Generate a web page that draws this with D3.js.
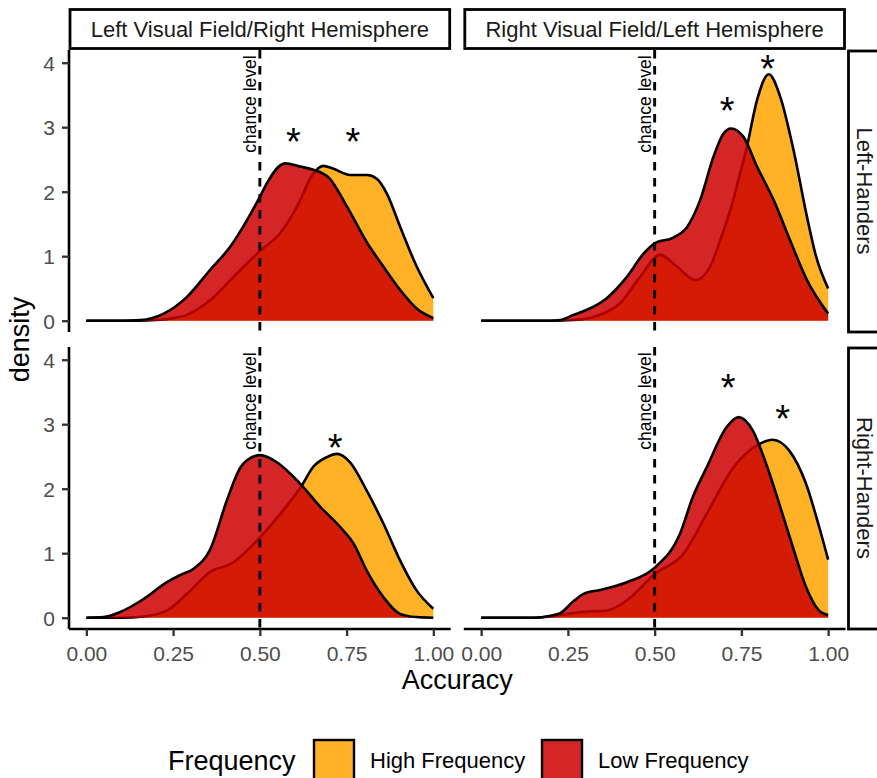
<!DOCTYPE html>
<html lang="en">
<head>
  <meta charset="UTF-8">
  <title>Accuracy densities by visual field and handedness</title>
  <script src="https://d3js.org/d3.v7.min.js"></script>
  <style>
    body {
      margin: 0;
      background: #fff;
      font-family: "Liberation Sans", Arial, Helvetica, sans-serif;
    }
    svg text {
      font-family: "Liberation Sans", Arial, Helvetica, sans-serif;
    }
    .tick-label {
      fill: #4d4d4d;
      font-size: 21px;
    }
    .strip-label {
      fill: #1a1a1a;
      font-size: 22px;
    }
    .axis-title {
      fill: #000;
      font-size: 27px;
    }
  </style>
</head>
<body>
  <svg width="877" height="778"></svg>

  <script>
    // facet labels
    const fieldLabels = ['Left Visual Field/Right Hemisphere', 'Right Visual Field/Left Hemisphere'];
    const handLabels = ['Left-Handers', 'Right-Handers'];
    const freqLabels = ['High Frequency', 'Low Frequency'];
    const freqColors = ['#FFA500', '#CD0000'];

    const accuracyTicks = [0, 0.25, 0.5, 0.75, 1];
    const densityTicks = [0, 1, 2, 3, 4];
    const chanceLevel = 0.5;

    // density curves: [accuracy, density]
    const leftLvfHigh = [[0, 0], [0.15, 0], [0.2, 0.01], [0.25, 0.04], [0.29, 0.09], [0.357, 0.32], [0.424, 0.68],
      [0.5, 1.08], [0.559, 1.36], [0.607, 1.77], [0.654, 2.28], [0.683, 2.4], [0.71, 2.36], [0.76, 2.26],
      [0.81, 2.26], [0.837, 2.2], [0.866, 1.97], [0.904, 1.46], [0.952, 0.84], [1, 0.35]];
    const leftLvfLow = [[0, 0], [0.1, 0], [0.156, 0.01], [0.223, 0.11], [0.29, 0.37], [0.357, 0.79], [0.415, 1.15],
      [0.463, 1.56], [0.5, 1.92], [0.52, 2.13], [0.573, 2.44], [0.616, 2.39], [0.654, 2.34], [0.7, 2.21],
      [0.75, 1.78], [0.81, 1.2], [0.856, 0.84], [0.904, 0.48], [0.952, 0.19], [1, 0.04]];

    const leftRvfHigh = [[0, 0], [0.2, 0], [0.266, 0.01], [0.33, 0.07], [0.4, 0.27], [0.458, 0.68], [0.516, 1.02],
      [0.564, 0.84], [0.617, 0.63], [0.66, 0.84], [0.689, 1.25], [0.72, 1.75], [0.746, 2.28], [0.766, 2.7],
      [0.795, 3.42], [0.829, 3.82], [0.862, 3.47], [0.9, 2.65], [0.939, 1.61], [0.965, 1.0], [1, 0.5]];
    const leftRvfLow = [[0, 0], [0.2, 0], [0.228, 0.01], [0.266, 0.09], [0.305, 0.17], [0.362, 0.35], [0.42, 0.68],
      [0.468, 1.04], [0.5, 1.2], [0.554, 1.29], [0.593, 1.45], [0.631, 1.87], [0.67, 2.55], [0.698, 2.9],
      [0.72, 2.98], [0.756, 2.85], [0.795, 2.39], [0.843, 1.87], [0.89, 1.25], [0.939, 0.63], [1, 0.11]];

    const rightLvfHigh = [[0, 0], [0.1, 0], [0.165, 0.02], [0.232, 0.11], [0.29, 0.37], [0.357, 0.71], [0.424, 0.86],
      [0.463, 1.04], [0.501, 1.25], [0.559, 1.61], [0.621, 2.05], [0.654, 2.34], [0.693, 2.49], [0.722, 2.54],
      [0.76, 2.41], [0.808, 1.97], [0.856, 1.46], [0.904, 0.89], [0.952, 0.42], [1, 0.14]];
    const rightLvfLow = [[0, 0], [0.05, 0.01], [0.098, 0.09], [0.165, 0.29], [0.232, 0.55], [0.27, 0.66], [0.309, 0.76],
      [0.357, 1.06], [0.405, 1.82], [0.444, 2.33], [0.463, 2.44], [0.501, 2.52], [0.549, 2.41], [0.616, 2.08],
      [0.674, 1.72], [0.731, 1.41], [0.77, 1.15], [0.808, 0.73], [0.856, 0.32], [0.904, 0.06], [0.95, 0.01], [1, 0]];

    const rightRvfHigh = [[0, 0], [0.15, 0], [0.2, 0.02], [0.25, 0.06], [0.295, 0.09], [0.362, 0.11], [0.42, 0.27],
      [0.501, 0.68], [0.583, 0.99], [0.65, 1.61], [0.727, 2.33], [0.804, 2.7], [0.84, 2.76], [0.888, 2.59],
      [0.936, 2.08], [0.974, 1.41], [1, 0.9]];
    const rightRvfLow = [[0, 0], [0.15, 0], [0.2, 0.03], [0.228, 0.07], [0.265, 0.25], [0.295, 0.37], [0.343, 0.43],
      [0.38, 0.48], [0.42, 0.55], [0.501, 0.78], [0.573, 1.3], [0.61, 1.87], [0.65, 2.33], [0.708, 2.96],
      [0.742, 3.11], [0.783, 2.9], [0.821, 2.39], [0.859, 1.77], [0.898, 1.1], [0.936, 0.48], [0.974, 0.11], [1, 0.04]];

    // significance stars: [accuracy, density]
    const leftLvfStars = [[0.597, 2.88], [0.768, 2.88]];
    const leftRvfStars = [[0.709, 3.37], [0.826, 4.02]];
    const rightLvfStars = [[0.717, 2.75]];
    const rightRvfStars = [[0.712, 3.68], [0.869, 3.19]];

    const panels = [
      { row: 0, col: 0, high: leftLvfHigh, low: leftLvfLow, stars: leftLvfStars },
      { row: 0, col: 1, high: leftRvfHigh, low: leftRvfLow, stars: leftRvfStars },
      { row: 1, col: 0, high: rightLvfHigh, low: rightLvfLow, stars: rightLvfStars },
      { row: 1, col: 1, high: rightRvfHigh, low: rightRvfLow, stars: rightRvfStars }
    ];

    const svg = d3.select('svg');
    const cols = [[69, 450.7], [463.8, 845.5]];
    const rows = [[50, 332], [347, 629]];
    const lineW = 2.6;

    panels.forEach(p => {
      const [x0, x1] = cols[p.col];
      const [y0, y1] = rows[p.row];
      const x = d3.scaleLinear().domain([-0.05, 1.05]).range([x0, x1]);
      const y = d3.scaleLinear().domain([-0.175, 4.197]).range([y1, y0]);
      const g = svg.append('g');

      const area = d3.area()
        .x(d => x(d[0])).y0(y(0)).y1(d => y(d[1]))
        .curve(d3.curveMonotoneX);
      const line = d3.line()
        .x(d => x(d[0])).y(d => y(d[1]))
        .curve(d3.curveMonotoneX);

      [p.high, p.low].forEach((series, i) => {
        g.append('path')
          .attr('d', area(series))
          .attr('fill', freqColors[i])
          .attr('fill-opacity', 0.85);
        g.append('path')
          .attr('d', line(series))
          .attr('fill', 'none')
          .attr('stroke', '#000')
          .attr('stroke-width', lineW);
      });

      // chance level
      g.append('line')
        .attr('x1', x(chanceLevel)).attr('x2', x(chanceLevel))
        .attr('y1', y0).attr('y2', y1)
        .attr('stroke', '#000')
        .attr('stroke-width', 2.9)
        .attr('stroke-dasharray', '8.5,7.5');
      g.append('text')
        .attr('transform', `translate(${x(chanceLevel) - 3.5},${y(3.36)}) rotate(-90)`)
        .attr('text-anchor', 'middle')
        .attr('font-size', 17.5)
        .attr('fill', '#000')
        .text('chance level');

      g.selectAll('.star')
        .data(p.stars)
        .enter()
        .append('text')
        .attr('class', 'star')
        .attr('x', d => x(d[0]))
        .attr('y', d => y(d[1]))
        .attr('dy', 20.5)
        .attr('text-anchor', 'middle')
        .attr('font-size', 38)
        .attr('fill', '#000')
        .text('*');

      // y axis on the left column only
      if (p.col === 0) {
        const yAxis = g.append('g').attr('transform', `translate(${x0},0)`)
          .call(d3.axisLeft(y).tickValues(densityTicks).tickSize(7).tickPadding(7).tickFormat(d3.format('d')));
        yAxis.select('.domain').attr('d', `M0,${y0}V${y1}`).attr('stroke-width', lineW).attr('stroke', '#000');
        yAxis.selectAll('.tick line').attr('stroke-width', lineW * 0.9).attr('stroke', '#333');
        yAxis.selectAll('.tick text').attr('class', 'tick-label').attr('font-size', null).attr('font-family', null).attr('dy', '0.36em');
      }

      // x axis on the bottom row only
      if (p.row === 1) {
        const xAxis = g.append('g').attr('transform', `translate(0,${y1})`)
          .call(d3.axisBottom(x).tickValues(accuracyTicks).tickSize(7).tickPadding(8).tickFormat(d3.format('.2f')));
        xAxis.select('.domain').attr('d', `M${x0},0H${x1}`).attr('stroke-width', lineW).attr('stroke', '#000');
        xAxis.selectAll('.tick line').attr('stroke-width', lineW * 0.9).attr('stroke', '#333');
        xAxis.selectAll('.tick text').attr('class', 'tick-label').attr('font-size', null).attr('font-family', null).attr('dy', '0.8em');
      }
    });

    // column strips
    fieldLabels.forEach((label, i) => {
      const [x0, x1] = cols[i];
      svg.append('rect')
        .attr('x', x0 + 1).attr('y', 9.5)
        .attr('width', x1 - x0 - 2).attr('height', 39)
        .attr('fill', '#fff').attr('stroke', '#000').attr('stroke-width', 2.8);
      svg.append('text')
        .attr('class', 'strip-label')
        .attr('x', (x0 + x1) / 2).attr('y', 37)
        .attr('text-anchor', 'middle')
        .text(label);
    });

    // row strips
    handLabels.forEach((label, i) => {
      const [y0, y1] = rows[i];
      svg.append('rect')
        .attr('x', 848.5).attr('y', y0 + 1)
        .attr('width', 40).attr('height', y1 - y0 - 1)
        .attr('fill', '#fff').attr('stroke', '#000').attr('stroke-width', 2.8);
      svg.append('text')
        .attr('class', 'strip-label')
        .attr('transform', `translate(857,${(y0 + y1) / 2}) rotate(90)`)
        .attr('text-anchor', 'middle')
        .text(label);
    });

    // axis titles
    svg.append('text')
      .attr('class', 'axis-title')
      .attr('x', (cols[0][0] + cols[1][1]) / 2).attr('y', 688.5)
      .attr('text-anchor', 'middle')
      .text('Accuracy');
    svg.append('text')
      .attr('class', 'axis-title')
      .attr('transform', `translate(29,${(rows[0][0] + rows[1][1]) / 2}) rotate(-90)`)
      .attr('text-anchor', 'middle')
      .text('density');

    // legend
    const legend = svg.append('g');
    legend.append('text')
      .attr('class', 'axis-title')
      .attr('x', 168).attr('y', 769.5)
      .text('Frequency');
    const keyX = [314, 542];
    freqLabels.forEach((label, i) => {
      legend.append('rect')
        .attr('x', keyX[i]).attr('y', 740)
        .attr('width', 40).attr('height', 40)
        .attr('fill', freqColors[i]).attr('fill-opacity', 0.85)
        .attr('stroke', '#000').attr('stroke-width', 2.4);
      legend.append('text')
        .attr('x', keyX[i] + 56).attr('y', 768)
        .attr('font-size', 22)
        .attr('fill', '#000')
        .text(label);
    });
  </script>
</body>
</html>
